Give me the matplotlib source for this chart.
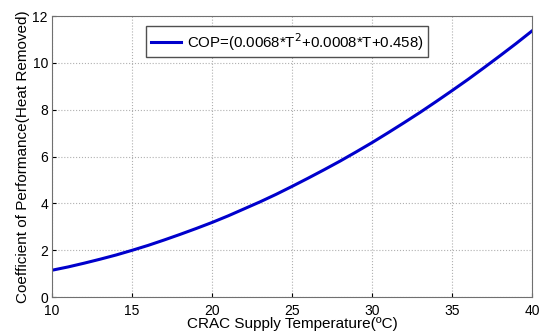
import matplotlib.pyplot as plt

# supply temperature (degC) and COP
temp = list(range(10, 41))
cop = [1.15, 1.29, 1.45, 1.62, 1.80, 2.00, 2.21, 2.44, 2.68, 2.93,
       3.19, 3.47, 3.77, 4.07, 4.39, 4.73, 5.08, 5.44, 5.81, 6.20,
       6.60, 7.02, 7.45, 7.89, 8.35, 8.82, 9.30, 9.80, 10.31, 10.83,
       11.37]

x_ticks = [10, 15, 20, 25, 30, 35, 40]
y_ticks = [0, 2, 4, 6, 8, 10, 12]

plt.rcParams['font.family'] = ['Liberation Sans', 'DejaVu Sans']

fig = plt.figure(figsize=(5.43, 3.35), dpi=100)
ax = fig.add_axes([0.096, 0.113, 0.884, 0.839])

ax.plot(temp, cop, color='#0000cc', lw=2.2,
        label='COP=(0.0068*T$^2$+0.0008*T+0.458)')

ax.set_xlim(10, 40)
ax.set_ylim(0, 12)
ax.set_xticks(x_ticks)
ax.set_yticks(y_ticks)
ax.tick_params(direction='in', labelsize=10, length=3, pad=3)
ax.tick_params(axis='x', pad=5)
ax.grid(True, linestyle=':', color='#b0b0b0', lw=0.8)
for s in ax.spines.values():
	s.set_color('#707070')

ax.set_xlabel('CRAC Supply Temperature(ºC)', fontsize=11, labelpad=-1)
ax.set_ylabel('Coefficient of Performance(Heat Removed)', fontsize=11, labelpad=2)

ax.legend(loc='upper left', bbox_to_anchor=(0.18, 0.99), fontsize=10.8,
          fancybox=False, edgecolor='#505050', handlelength=2.0,
          handletextpad=0.4, borderpad=0.3, framealpha=1)

fig.savefig('out.png', dpi=100)
